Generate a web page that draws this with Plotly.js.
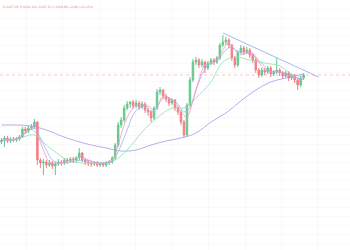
<!DOCTYPE html>
<html><head><meta charset="utf-8">
<script src="https://cdn.plot.ly/plotly-3.0.1.min.js"></script>
<style>html,body{margin:0;padding:0;background:#fff;}#chart{width:350px;height:250px;}</style>
</head><body><div id="chart"></div>
<script>
// OHLC (price units)
const opens = [2363,2365,2367,2364,2366,2365,2366,2368,2376,2374,2377,2378,2383,2345,2342,2343,2340,2342,2339,2341,2343,2342,2345,2344,2346,2345,2347,2352,2345,2343,2342,2341,2342,2340,2341,2340,2342,2343,2347,2360,2380,2385,2397,2401,2403,2399,2402,2398,2401,2395,2393,2387,2397,2413,2415,2409,2406,2402,2405,2397,2393,2383,2370,2400,2425,2443,2445,2440,2443,2437,2442,2445,2443,2447,2460,2463,2465,2460,2447,2440,2453,2457,2453,2455,2450,2445,2435,2430,2435,2433,2437,2431,2433,2435,2432,2429,2432,2427,2429,2425,2420,2427];
const highs = [2367,2369,2369,2368,2368,2368,2370,2378,2378,2379,2381,2386,2384,2347,2346,2345,2345,2344,2343,2346,2345,2347,2347,2348,2348,2349,2357,2353,2347,2345,2344,2344,2344,2343,2343,2344,2345,2349,2362,2383,2388,2400,2404,2404,2405,2405,2404,2404,2403,2397,2395,2399,2416,2418,2416,2411,2408,2407,2406,2399,2395,2385,2402,2428,2446,2448,2447,2446,2444,2444,2447,2447,2449,2462,2470,2468,2467,2461,2449,2455,2460,2459,2458,2457,2452,2447,2437,2437,2437,2439,2439,2435,2447,2437,2434,2434,2434,2431,2431,2427,2429,2432];
const lows = [2361,2358,2362,2362,2363,2363,2364,2367,2371,2372,2375,2376,2340,2337,2330,2337,2338,2336,2330,2339,2339,2340,2341,2342,2342,2343,2345,2343,2340,2339,2338,2339,2338,2338,2338,2338,2340,2341,2345,2358,2377,2383,2395,2397,2396,2397,2395,2396,2392,2389,2383,2385,2395,2410,2406,2403,2399,2400,2394,2390,2380,2367,2368,2398,2423,2440,2437,2438,2432,2435,2440,2440,2441,2445,2458,2460,2457,2444,2437,2438,2451,2450,2451,2447,2442,2432,2427,2428,2430,2431,2428,2429,2431,2429,2426,2427,2424,2425,2422,2415,2418,2425];
const closes = [2365,2367,2364,2366,2365,2366,2368,2376,2374,2377,2378,2383,2345,2342,2343,2340,2342,2339,2341,2343,2342,2345,2344,2346,2345,2347,2352,2345,2343,2342,2341,2342,2340,2341,2340,2342,2343,2347,2360,2380,2385,2397,2401,2403,2399,2402,2398,2401,2395,2393,2387,2397,2413,2415,2409,2406,2402,2405,2397,2393,2383,2370,2400,2425,2443,2445,2440,2443,2437,2442,2445,2443,2447,2460,2463,2465,2460,2447,2440,2453,2457,2453,2455,2450,2445,2435,2430,2435,2433,2437,2431,2433,2435,2432,2429,2432,2427,2429,2425,2420,2427,2430];

// Moving-average lines (bar index, price)
const maFastX = [0,3,6,8,10,12,14,16,19,22,25,27,29,32,35,37,39,41,43,45,48,50,52,54,56,58,60,62,64,66,68,70,72,74,76,78,80,82,84,86,88,90,92,94,96,98,100,101];
const maFastY = [2365,2365,2368,2373,2376,2370,2355,2343,2342,2344,2347,2348,2345,2342,2342,2345,2360,2380,2393,2400,2400,2393,2398,2409,2407,2402,2393,2388,2405,2425,2440,2442,2445,2455,2462,2455,2450,2453,2452,2443,2435,2433,2434,2432,2430,2428,2425,2426];
const maMidX = [0,4,7,9,11,13,15,17,20,25,28,33,36,38,40,42,44,46,49,51,53,55,57,59,61,63,65,67,69,71,73,75,77,79,81,83,85,87,89,91,93,95,97,99,101];
const maMidY = [2365,2365,2369,2374,2377,2367,2355,2345,2342,2344,2345,2342,2343,2348,2360,2375,2390,2397,2399,2395,2403,2408,2405,2401,2393,2397,2415,2430,2440,2442,2448,2455,2458,2453,2452,2452,2447,2442,2435,2433,2433,2432,2430,2427,2426];
const maSlowX = [0,5,11,15,18,22,27,33,38,42,47,52,57,61,65,70,74,78,83,88,93,97,101];
const maSlowY = [2365,2366,2370,2360,2353,2345,2342,2342,2345,2355,2373,2387,2397,2397,2407,2423,2443,2448,2445,2442,2439,2431,2428];
const maLongX = [0,5,10,15,20,25,30,35,40,45,50,55,60,65,70,75,80,85,90,95,101];
const maLongY = [2380,2380,2379,2375,2369,2364,2360,2357,2354,2355,2360,2364,2367,2372,2383,2392,2404,2415,2423,2427,2431];

// Trend line and last-price level
const trendX = [74,106];
const trendY = [2472,2428];
const lastPrice = 2430;
const headerText = "O 2427.05 H 2432.18 L 2425.12 C 2429.99 +2.94 (+0.12%)";

const idx = closes.map((_, i) => i);

const traces = [
  {type:'scatter', mode:'lines', x:maLongX, y:maLongY, line:{color:'rgba(170,150,235,0.8)', width:1, shape:'spline'}, hoverinfo:'skip'},
  {type:'scatter', mode:'lines', x:maSlowX, y:maSlowY, line:{color:'rgba(140,225,170,0.8)', width:1, shape:'spline'}, hoverinfo:'skip'},
  {type:'scatter', mode:'lines', x:maMidX, y:maMidY, line:{color:'rgba(150,180,245,0.8)', width:1, shape:'spline'}, hoverinfo:'skip'},
  {type:'scatter', mode:'lines', x:maFastX, y:maFastY, line:{color:'rgba(245,150,190,0.8)', width:1, shape:'spline'}, hoverinfo:'skip'},
  {type:'scatter', mode:'lines', x:trendX, y:trendY, line:{color:'rgba(150,170,240,0.85)', width:1}, hoverinfo:'skip'},
  {type:'candlestick', x:idx, open:opens, high:highs, low:lows, close:closes, opacity:0.85,
   increasing:{line:{color:'#4cbf7a', width:1}, fillcolor:'#4cbf7a'},
   decreasing:{line:{color:'#f06a72', width:1}, fillcolor:'#f06a72'},
   whiskerwidth:0, hoverinfo:'skip'}
];

const layout = {
  width:350, height:250,
  margin:{l:0, r:0, t:0, b:0},
  paper_bgcolor:'#ffffff', plot_bgcolor:'#ffffff',
  showlegend:false,
  xaxis:{range:[-0.5,116.5], showticklabels:false, zeroline:false, showline:false,
         showgrid:true, gridcolor:'rgba(0,0,0,0.025)', gridwidth:1, tick0:8.2, dtick:12.2,
         rangeslider:{visible:false}, fixedrange:true},
  yaxis:{range:[2255,2505], showticklabels:false, zeroline:false, showline:false,
         showgrid:true, gridcolor:'rgba(0,0,0,0.022)', gridwidth:1, tick0:2261.67, dtick:9, fixedrange:true},
  shapes:[{type:'line', xref:'paper', x0:0, x1:1, yref:'y', y0:lastPrice, y1:lastPrice,
           line:{color:'rgba(240,120,130,0.45)', width:1, dash:'dot'}}],
  annotations:[{xref:'paper', yref:'paper', x:0.003, y:0.99, xanchor:'left', yanchor:'top',
                text:headerText, showarrow:false, font:{family:'DejaVu Sans', size:3, color:'#f07a80'}}]
};

Plotly.newPlot('chart', traces, layout, {staticPlot:true, displayModeBar:false});
</script></body></html>
